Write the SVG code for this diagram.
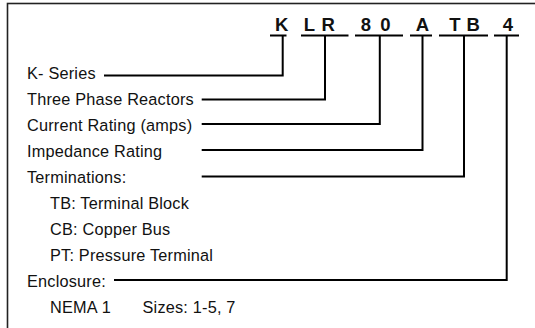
<svg xmlns="http://www.w3.org/2000/svg" width="535" height="328" viewBox="0 0 535 328">
<style>
.lbl{font-family:"Liberation Sans",Arial,sans-serif;font-size:16.3px;letter-spacing:0.2px;fill:#111}
.code{font-family:"Liberation Sans",Arial,sans-serif;font-size:18.5px;font-weight:bold;fill:#111;text-anchor:middle}
.ln{fill:none;stroke:#000;stroke-width:2}
</style>
<rect x="7.5" y="3.5" width="600" height="400" fill="#fff" stroke="#222" stroke-width="1.6"/>
<g id="code">
<text class="code" x="281.7" y="31">K</text>
<text class="code" x="309.5" y="31">L</text>
<text class="code" x="328.3" y="31">R</text>
<text class="code" x="366" y="31">8</text>
<text class="code" x="385.5" y="31">0</text>
<text class="code" x="422.5" y="31">A</text>
<text class="code" x="455" y="31">T</text>
<text class="code" x="473.3" y="31">B</text>
<text class="code" x="508" y="31">4</text>
</g>
<g id="underlines">
<path class="ln" d="M270 35.5H286.5M301 35.5H348.5M355 35.5H403M410 35.5H432M439 35.5H488M494 35.5H519"/>
</g>
<g id="labels">
<text id="k-series" class="lbl" x="27" y="79">K- Series</text>
<text id="three-phase" class="lbl" x="27" y="105">Three Phase Reactors</text>
<text id="current" class="lbl" x="27" y="131">Current Rating (amps)</text>
<text id="impedance" class="lbl" x="27" y="157">Impedance Rating</text>
<text id="terminations" class="lbl" x="27" y="183">Terminations:</text>
<text class="lbl" x="50" y="209">TB: Terminal Block</text>
<text class="lbl" x="50" y="235">CB: Copper Bus</text>
<text class="lbl" x="50" y="261">PT: Pressure Terminal</text>
<text id="enclosure" class="lbl" x="27" y="287">Enclosure:</text>
<text class="lbl" x="50" y="313">NEMA 1<tspan x="142.5">Sizes: 1-5, 7</tspan></text>
</g>
<g id="connectors">
<path class="ln" d="M104 75.5H282.7V35.5"/>
<path class="ln" d="M201.7 99.5H325V35.5"/>
<path class="ln" d="M201.7 124H379.8V35.5"/>
<path class="ln" d="M201.7 150H422.5V35.5"/>
<path class="ln" d="M201.7 176.5H464V35.5"/>
<path class="ln" d="M114 280H506.7V35.5"/>
</g>
</svg>
